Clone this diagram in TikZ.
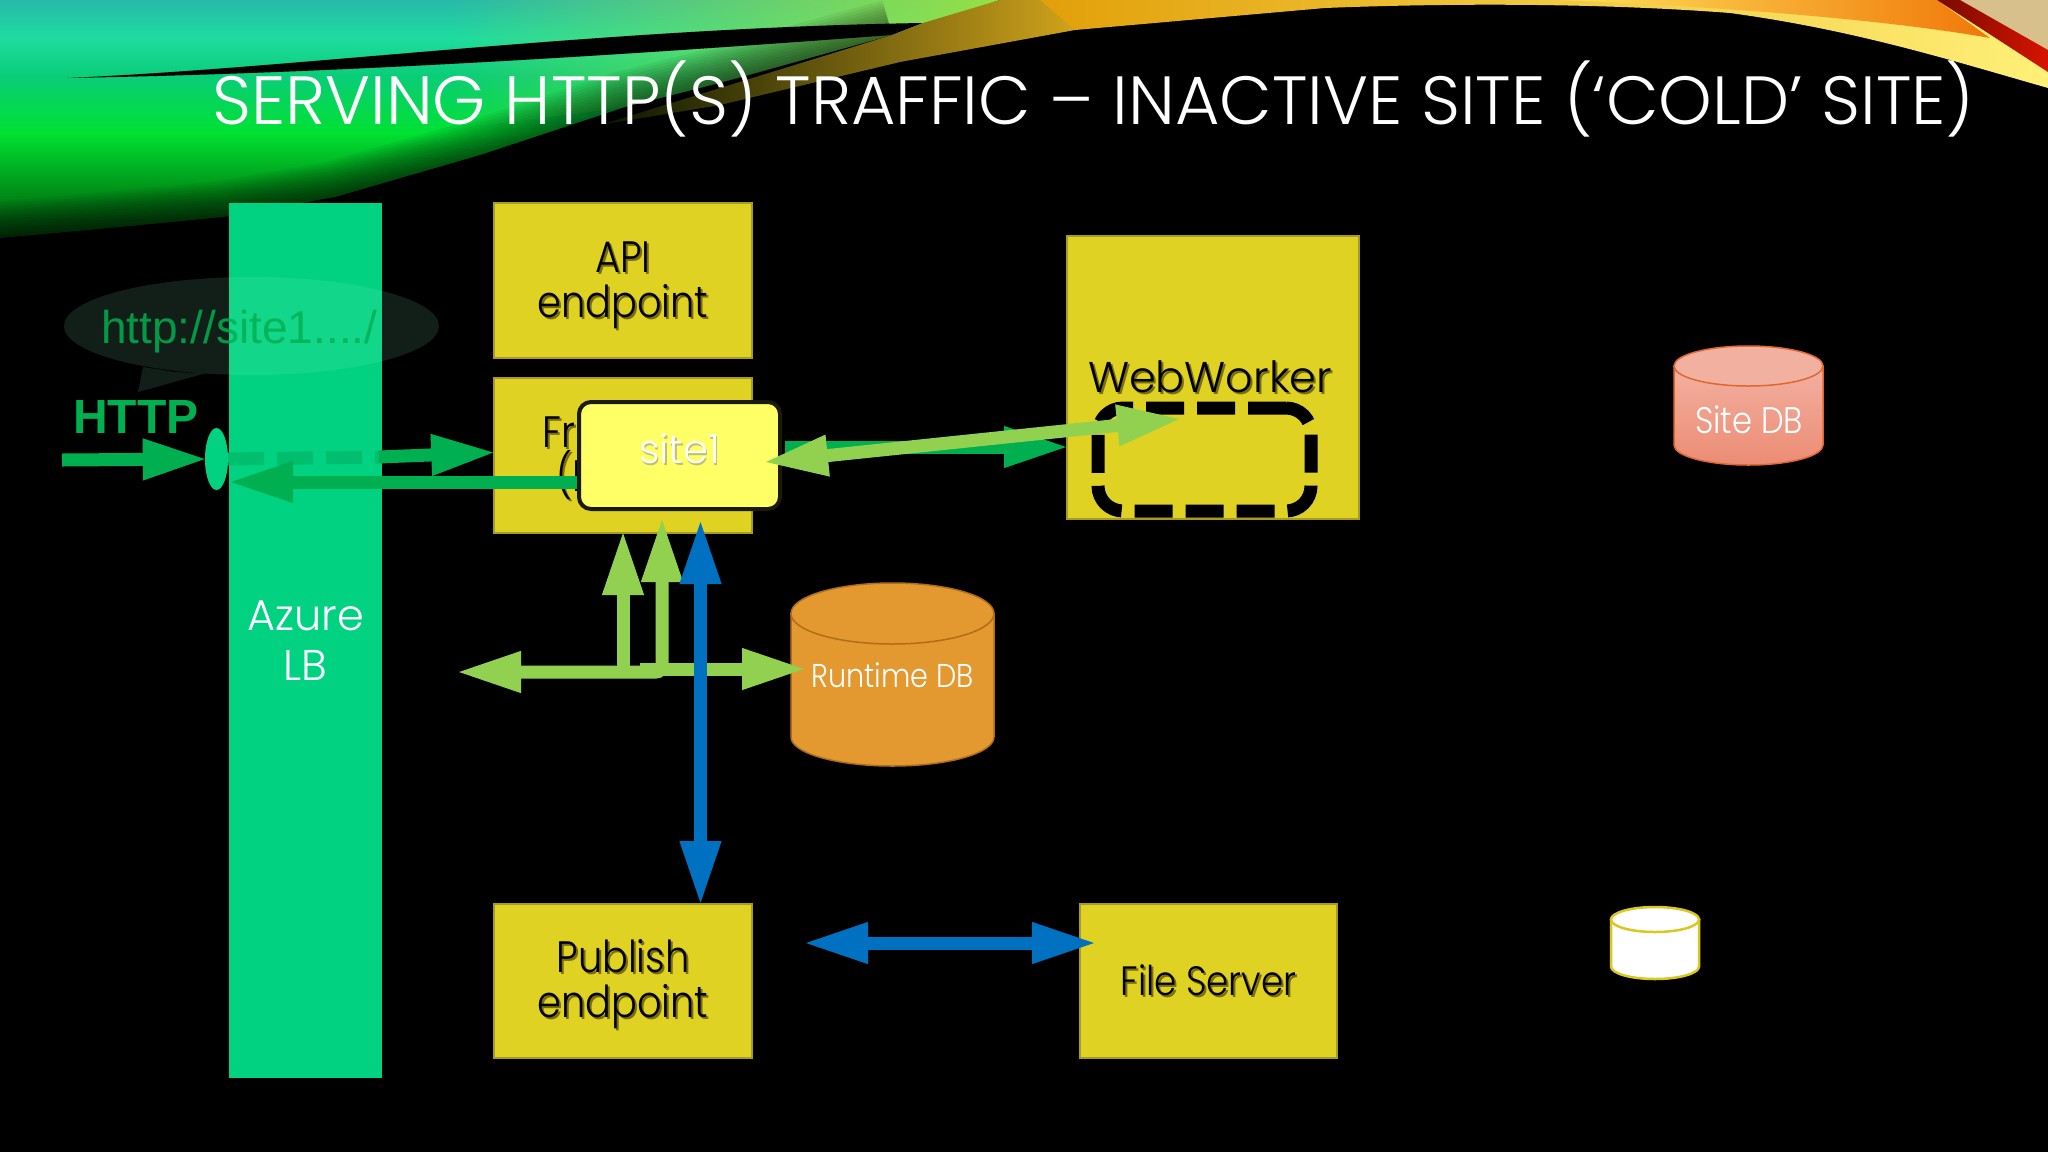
\documentclass[tikz,border=0pt]{standalone}
\usepackage{fontspec}
\usepackage{xcolor}
\usetikzlibrary{arrows.meta,shapes.geometric,fadings}
\setmainfont{Liberation Sans}
\newfontfamily\gothic{Poppins}[UprightFont=* Light]
\newfontfamily\gothicnarrow{Poppins}[UprightFont=* Light,FakeStretch=.87]
\definecolor{azurelb}{RGB}{0,210,130}
\definecolor{boxfill}{RGB}{224,210,34}
\definecolor{boxedge}{RGB}{168,156,32}
\definecolor{boxshade}{RGB}{120,110,10}
\definecolor{httpgreen}{RGB}{0,176,80}
\definecolor{limearrow}{RGB}{146,208,80}
\definecolor{bluearrow}{RGB}{0,112,192}
\definecolor{sitefill}{RGB}{255,255,102}
\definecolor{sitelabel}{RGB}{190,190,120}
\definecolor{runtimefill}{RGB}{227,152,48}
\definecolor{runtimeedge}{RGB}{176,110,24}
\definecolor{sitedbedge}{RGB}{224,104,48}
\definecolor{sitedbtop}{RGB}{242,176,160}
\definecolor{sitedbbody}{RGB}{236,140,116}
\definecolor{blobedge}{RGB}{216,200,32}
\definecolor{leafa}{RGB}{0,80,14}
\definecolor{leafb}{RGB}{0,145,24}
\definecolor{leafc}{RGB}{0,225,50}
\definecolor{leafd}{RGB}{10,205,120}
\definecolor{leafe}{RGB}{30,220,160}
\definecolor{leaff}{RGB}{40,185,170}
\pgfdeclareverticalshading{leafshade}{100bp}{color(0bp)=(leafa);color(25bp)=(leafa);color(35bp)=(leafb);color(47bp)=(leafc);color(59bp)=(leafd);color(67bp)=(leafe);color(75bp)=(leaff);color(100bp)=(leaff)}
\newcommand{\shadowed}[1]{\leavevmode\rlap{\raisebox{-2pt}{\hspace{2pt}\textcolor{boxshade}{#1}}}#1}
\newcommand{\lowered}{\rule{0pt}{42pt}}
\tikzset{
  boxnode/.style={draw=boxedge,line width=1.5,fill=boxfill,inner sep=0,align=center,text=black,font=\gothicnarrow\fontsize{44}{45}\selectfont},
  flowarrow/.style={line width=13,shorten >=-3pt,-{Triangle[length=65pt,width=38pt]}},
  bothway/.style={line width=13,shorten >=-3pt,shorten <=-3pt,{Triangle[length=65pt,width=38pt]}-{Triangle[length=65pt,width=38pt]}},
  dblabel/.style={inner sep=0,text=white,font=\gothicnarrow\fontsize{33}{33}\selectfont}
}
\begin{document}
\begin{tikzpicture}[x=1pt,y=-1pt]
\useasboundingbox (0,0) rectangle (2048,1152);
\fill[black] (0,0) rectangle (2048,1152);
\shade[shading=leafshade] (0,0) -- (1000,0) -- (892,35) -- (700,88) -- (625,107) -- (480,155) -- (335,197) -- (223,217) -- (110,228) -- (0,238) -- cycle;
\fill[color={rgb,255:red,150;green,225;blue,70},path fading=west] (450,0) -- (1000,0) -- (892,35) -- (740,78) -- (620,108) -- (450,130) -- cycle;
\foreach \w in {6,12,...,72}
  \draw[black,opacity=.06,line width=\w] (0,238) -- (110,228) -- (223,217) -- (335,197) -- (480,155) -- (625,107) -- (700,88) -- (892,35);
\fill[black] (67,78) .. controls (300,68) and (600,28) .. (923,23) -- (892,35) .. controls (560,60) and (300,74) .. (67,78) -- cycle;
\shade[left color={rgb,255:red,8;green,20;blue,0},right color={rgb,255:red,226;green,176;blue,30}] (600,125) -- (892,35) -- (923,23) -- (1000,0) -- (1120,0) -- (1075,30) -- (900,62) -- (720,105) -- cycle;
\shade[left color={rgb,255:red,226;green,160;blue,10},right color={rgb,255:red,255;green,240;blue,120}] (1040,0) -- (2048,0) -- (2048,88) .. controls (1950,60) and (1855,30) .. (1730,13) .. controls (1600,3) and (1450,3) .. (1325,8) -- (1075,30) -- cycle;
\shade[left color={rgb,255:red,255;green,225;blue,90},right color={rgb,255:red,240;green,120;blue,10}] (1560,0) -- (1937,0) -- (1990,38) .. controls (1900,22) and (1750,8) .. (1560,0) -- cycle;
\fill[color={rgb,255:red,216;green,192;blue,140}] (1960,0) -- (2048,0) -- (2048,50) -- cycle;
\shade[left color={rgb,255:red,120;green,10;blue,0},right color={rgb,255:red,215;green,20;blue,0}] (1937,0) -- (1960,0) -- (2048,50) -- (2048,72) -- cycle;
\node[anchor=base west,inner sep=0,text=white,font=\gothic\fontsize{68.2}{69}\selectfont] (slidetitle) at (212,124) {SERVING HTTP(S) TRAFFIC – INACTIVE SITE (‘COLD’ SITE)};
\node[fill=azurelb,inner sep=0,minimum width=153,minimum height=875,align=center,text=white,font=\gothic\fontsize{43}{50}\selectfont] (azurelb) at (305.5,640.5) {Azure\\LB};
\fill[color={rgb,255:red,150;green,255;blue,210},opacity=.12] (251.5,326) ellipse [x radius=187.5,y radius=49];
\fill[color={rgb,255:red,150;green,255;blue,210},opacity=.12] (143,367) -- (138,392) -- (205,373.5) -- (175,372) -- cycle;
\node[anchor=base west,inner sep=0,text=httpgreen,opacity=.85,font=\fontsize{46}{46}\selectfont] (siteurl) at (101,343) {http://site1..../};
\node[anchor=base west,inner sep=0,text=httpgreen,font=\bfseries\fontsize{48}{48}\selectfont] (httplabel) at (73,433) {HTTP};
\node[boxnode,minimum width=258,minimum height=155] (apinode) at (623,280.5) {\lowered\shadowed{API}\\\shadowed{endpoint}};
\node[boxnode,minimum width=258,minimum height=155] (frontnode) at (623,455.5) {};
\node[anchor=base west,inner sep=0,text=black,font=\gothicnarrow\fontsize{44}{44}\selectfont] (frontup) at (542,447) {\shadowed{Fr}};
\node[anchor=base west,inner sep=0,text=black,font=\gothicnarrow\fontsize{44}{44}\selectfont] (frontlow) at (556,491) {\shadowed{(I}};
\node[boxnode,minimum width=258,minimum height=154] (publishnode) at (623,981) {\lowered\shadowed{Publish}\\\shadowed{endpoint}};
\node[boxnode,minimum width=257,minimum height=154,font=\gothicnarrow\fontsize{41}{45}\selectfont] (filenode) at (1208.5,981) {\shadowed{File Server}};
\node[boxnode,minimum width=292,minimum height=283] (workernode) at (1213,377.5) {};
\node[anchor=base,inner sep=0,text=black,font=\gothic\fontsize{43}{44}\selectfont] (workerlabel) at (1210,392) {\shadowed{WebWorker}};
\node[draw=black,line width=13,dash pattern=on 38pt off 13pt,rounded corners=25,inner sep=0,minimum width=213,minimum height=103] (workslot) at (1204.5,459.5) {};
\node[ellipse,fill=azurelb,inner sep=0,minimum width=23,minimum height=62] (lbport) at (216.5,459) {};
\coordinate (httpin) at (62,460);
\coordinate (lbexit) at (379,457);
\coordinate (backtip) at (231,482);
\coordinate (backstart) at (585,482);
\coordinate (workin) at (785,447);
\coordinate (worktip) at (1066,447);
\draw[httpgreen,flowarrow] (httpin) -- (lbport.west);
\draw[color={rgb,255:red,0;green,190;blue,110},line width=13,dash pattern=on 36pt off 13pt] (lbport.east) -- (lbexit);
\draw[httpgreen,flowarrow] (lbexit) -- ([yshift=3pt]frontnode.west);
\draw[httpgreen,flowarrow] (backstart) -- (backtip);
\draw[httpgreen,flowarrow] (workin) -- (worktip);
\node[draw={rgb,255:red,26;green,26;blue,16},line width=4,fill=sitefill,rounded corners=12,inner sep=0,minimum width=201,minimum height=107,text=white,font=\gothic\fontsize{40}{40}\selectfont] (sitenode) at (679.5,455.5) {\rule[-14pt]{0pt}{1pt}\leavevmode\rlap{\raisebox{-1.5pt}{\hspace{1.5pt}\textcolor{sitelabel}{site1}}}site1};
\coordinate (sitetip) at (766,462);
\coordinate (slottip) at (1179,419);
\draw[limearrow,bothway] (sitetip) -- (slottip);
\fill[runtimefill,draw=runtimeedge,line width=1.5] (791,613.5) -- (791,737) arc[start angle=180,end angle=0,x radius=101.5,y radius=29] -- (994,613.5) -- cycle;
\fill[runtimefill,draw=runtimeedge,line width=1.5] (892.5,613.5) ellipse [x radius=101.5,y radius=30.5];
\node[dblabel] (runtimedb) at (892.5,675) {Runtime DB};
\shade[top color=sitedbtop,bottom color=sitedbbody,draw=sitedbedge,line width=1.5] (1674,366) -- (1674,445) arc[start angle=180,end angle=0,x radius=74.5,y radius=20] -- (1823,366) -- cycle;
\fill[sitedbtop,draw=sitedbedge,line width=1.5] (1748.5,366) ellipse [x radius=74.5,y radius=20];
\node[dblabel,font=\gothicnarrow\fontsize{37}{37}\selectfont] (sitedb) at (1749,420) {Site DB};
\fill[white,draw=blobedge,line width=2.5] (1611,919.5) -- (1611,966.5) arc[start angle=180,end angle=0,x radius=44,y radius=12.5] -- (1699,919.5) -- cycle;
\fill[white,draw=blobedge,line width=2.5] (1655,919.5) ellipse [x radius=44,y radius=12.5];
\coordinate (dbleft) at (459,672);
\coordinate (dbelbow) at (662,672);
\coordinate (frontup1) at (623,533);
\coordinate (frontbase1) at (623,672);
\coordinate (frontup2) at (662,520);
\coordinate (dbstart) at (640,669);
\coordinate (dbtip) at (804,669);
\draw[limearrow,flowarrow] (frontbase1) -- (frontup1);
\draw[limearrow,bothway,rounded corners=6] (dbleft) -- (dbelbow) -- (frontup2);
\draw[limearrow,flowarrow] (dbstart) -- (dbtip);
\coordinate (bluetop) at (700.5,522);
\coordinate (bluebottom) at (700.5,903);
\draw[bluearrow,bothway] (bluetop) -- (bluebottom);
\coordinate (fileleft) at (806,943);
\coordinate (fileright) at (1094,943);
\draw[bluearrow,bothway] (fileleft) -- (fileright);
\end{tikzpicture}
\end{document}
